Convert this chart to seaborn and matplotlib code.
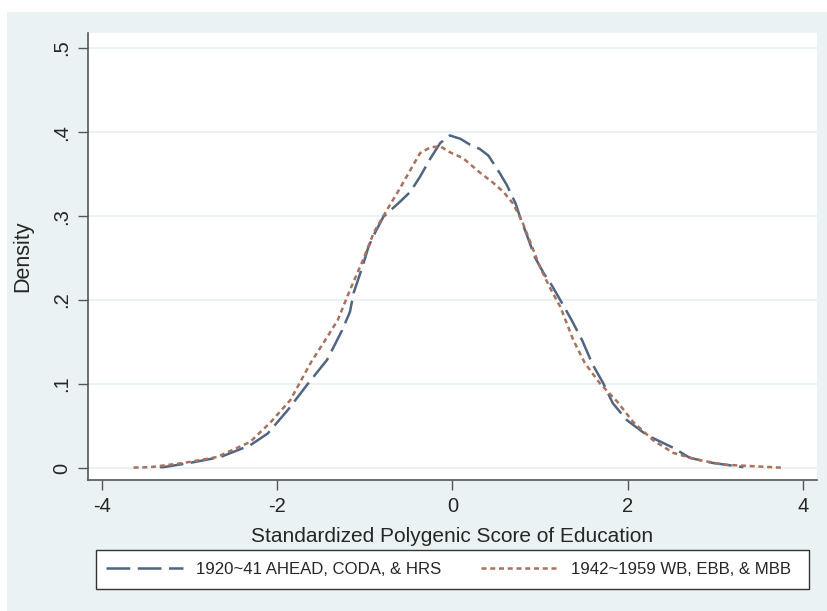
import numpy as np
import pandas as pd
import matplotlib
matplotlib.use("Agg")
import matplotlib.pyplot as plt
import seaborn as sns
from matplotlib.patches import Rectangle

# kernel density curves
x_early = [-3.34, -3.3, -3.0, -2.65, -2.31, -2.11, -1.88, -1.66, -1.43, -1.26, -1.17, -1.13,
           -1.03, -0.96, -0.9, -0.79, -0.6, -0.48, -0.37, -0.25, -0.14, -0.03, 0.09, 0.2,
           0.31, 0.41, 0.54, 0.62, 0.72, 0.77, 0.85, 0.94, 1.04, 1.13, 1.23, 1.36, 1.48,
           1.6, 1.72, 1.83, 1.99, 2.22, 2.52, 2.71, 2.97, 3.32]
y_early = [0.001, 0.001, 0.006, 0.013, 0.027, 0.041, 0.069, 0.099, 0.129, 0.164, 0.186, 0.208,
           0.239, 0.263, 0.277, 0.299, 0.317, 0.329, 0.347, 0.369, 0.387, 0.396, 0.392, 0.385,
           0.380, 0.372, 0.351, 0.337, 0.315, 0.299, 0.277, 0.251, 0.232, 0.218, 0.200, 0.176, 0.152,
           0.123, 0.101, 0.077, 0.057, 0.039, 0.024, 0.012, 0.006, 0.001]

x_late = [-3.64, -3.45, -3.07, -2.69, -2.31, -2.08, -1.85, -1.62, -1.43, -1.31, -1.17, -1.02,
          -0.9, -0.75, -0.6, -0.48, -0.37, -0.25, -0.14, -0.03, 0.12, 0.31, 0.46, 0.58,
          0.69, 0.79, 0.88, 1.0, 1.11, 1.23, 1.38, 1.51, 1.68, 1.88, 2.06, 2.29, 2.52,
          2.79, 3.09, 3.77]
y_late = [0.0005, 0.001, 0.006, 0.013, 0.031, 0.054, 0.081, 0.125, 0.156, 0.176, 0.212, 0.248,
          0.280, 0.307, 0.333, 0.355, 0.375, 0.382, 0.383, 0.376, 0.369, 0.352, 0.340, 0.329,
          0.315, 0.295, 0.271, 0.239, 0.215, 0.192, 0.152, 0.125, 0.101, 0.079, 0.055, 0.033, 0.018,
          0.010, 0.004, 0.0003]

label_early = "1920~41 AHEAD, CODA, & HRS"
label_late = "1942~1959 WB, EBB, & MBB"
xticks = [-4, -2, 0, 2, 4]
yticks = [0, 0.1, 0.2, 0.3, 0.4, 0.5]
ytick_labels = ["0", ".1", ".2", ".3", ".4", ".5"]

df_early = pd.DataFrame({"x": x_early, "y": y_early})
df_late = pd.DataFrame({"x": x_late, "y": y_late})

sns.set_style("white")
plt.rcParams["font.family"] = ["Liberation Sans", "DejaVu Sans"]
plt.rcParams["axes.unicode_minus"] = False

bg = "#EAF2F3"
c_early = "#4F6582"
c_late = "#A8725F"
W, H = 828, 611

fig = plt.figure(figsize=(8.28, 6.11), dpi=100, facecolor="white")
fig.patches.append(Rectangle((7 / W, 0), 1 - 7 / W, 1 - 12 / H,
                             transform=fig.transFigure, facecolor=bg, edgecolor="none", zorder=-10))
ax = fig.add_axes([88 / W, 1 - 480 / H, (817 - 88) / W, (480 - 33) / H])
ax.set_facecolor("white")

sns.lineplot(data=df_early, x="x", y="y", ax=ax, color=c_early, lw=1.8,
             linestyle=(0, (9.5, 3)), sort=False, estimator=None, label=label_early, legend=False)
sns.lineplot(data=df_late, x="x", y="y", ax=ax, color=c_late, lw=1.8,
             linestyle=(0, (2, 1.5)), sort=False, estimator=None, label=label_late, legend=False)

ax.set_xlim(-4.16, 4.16)
ax.set_ylim(-0.0143, 0.518)
ax.set_xticks(xticks)
ax.set_xticklabels([str(t) for t in xticks])
ax.set_yticks(yticks)
ax.set_yticklabels(ytick_labels, rotation=90, va="center")
for t in yticks:
    ax.axhline(t, color=bg, lw=1.5, zorder=0)

for s in ["top", "right"]:
    ax.spines[s].set_visible(False)
for s in ["left", "bottom"]:
    ax.spines[s].set_color("#555555")
    ax.spines[s].set_linewidth(1.2)
ax.tick_params(axis="both", direction="out", length=7, width=1.0, color="#555555",
               labelsize=14.5, pad=5, left=True, bottom=True)

ax.set_xlabel("Standardized Polygenic Score of Education", fontsize=15, labelpad=8.5)
ax.set_ylabel("Density", fontsize=15.5, labelpad=14)

# legend box drawn separately, entries placed inside
fig.patches.append(Rectangle((96 / W, 1 - 589 / H), (809 - 96) / W, 39 / H,
                             transform=fig.transFigure, facecolor="white",
                             edgecolor="#333333", lw=1.0, zorder=5))
handles, labels = ax.get_legend_handles_labels()
leg = fig.legend(handles, labels, ncol=2, fontsize=12.1,
                 bbox_to_anchor=(106 / W, 1 - 569.5 / H), loc="center left",
                 frameon=False, handlelength=4.6, borderpad=0, borderaxespad=0,
                 handletextpad=0.75, columnspacing=2.4)
leg.set_zorder(6)

fig.savefig("out.png", dpi=100, facecolor=fig.get_facecolor())
